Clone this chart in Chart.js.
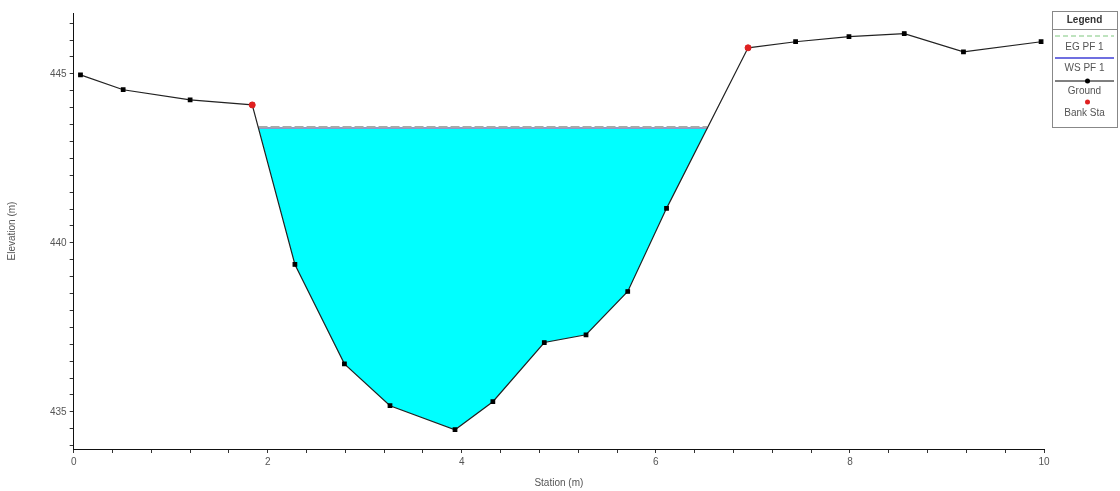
<!DOCTYPE html>
<html lang="en">

<head>
    <meta charset="UTF-8">
    <title>Cross Section</title>
    <style>
        body { margin: 0; background: #fff; }
    </style>
</head>

<body>
    <canvas id="myChart01" width="1120" height="491"></canvas>
</body>
<!-- chart.js -->
<script src="https://cdn.jsdelivr.net/npm/chart.js"></script>
<script>
    // ground profile (station m, elevation m)
    var groundStation = [0.07, 0.51, 1.20, 1.84, 2.28, 2.79, 3.26, 3.93, 4.32, 4.85, 5.28, 5.71, 6.11, 6.95, 7.44, 7.99, 8.56, 9.17, 9.97];
    var groundElev = [444.97, 444.53, 444.23, 444.08, 439.36, 436.42, 435.18, 434.47, 435.30, 437.05, 437.28, 438.56, 441.02, 445.77, 445.95, 446.10, 446.19, 445.65, 445.95];
    // bank stations
    var bankStation = [1.84, 6.95];
    var bankElev = [444.08, 445.77];
    // water surface / energy grade
    var wsElev = 443.40;
    var egElev = 443.43;
    var waterLeft = 1.905;
    var waterRight = 6.53;
    // axis labels
    var xLabels = [0, 2, 4, 6, 8, 10];
    var yLabels = [435, 440, 445];
    var legendItems = ['EG PF 1', 'WS PF 1', 'Ground', 'Bank Sta'];

    function pts(xs, ys) {
        return xs.map(function (x, i) { return { x: x, y: ys[i] }; });
    }

    var groundData = pts(groundStation, groundElev);
    var bankData = pts(bankStation, bankElev);

    // water polygon: left edge, ground under the water, right edge
    var waterData = [{ x: waterLeft, y: wsElev }];
    groundData.forEach(function (p) {
        if (p.x > waterLeft && p.x < waterRight) waterData.push(p);
    });
    waterData.push({ x: waterRight, y: wsElev });

    function isLabel(v, list) {
        return list.some(function (l) { return Math.abs(v - l) < 1e-6; });
    }

    // legend box on the right
    const legendBox = {
        id: 'legendBox',
        afterDraw: function (chart) {
            var c = chart.ctx;
            var x0 = 1052, y0 = 11, w = 65, h = 116, cx = x0 + w / 2;
            c.save();
            c.fillStyle = '#fff';
            c.fillRect(x0, y0, w, h);
            c.strokeStyle = '#888';
            c.lineWidth = 1;
            c.strokeRect(x0 + 0.5, y0 + 0.5, w, h);
            c.beginPath();
            c.moveTo(x0, y0 + 18.5);
            c.lineTo(x0 + w, y0 + 18.5);
            c.stroke();
            c.textAlign = 'center';
            c.textBaseline = 'middle';
            c.fillStyle = '#333';
            c.font = 'bold 10px "Liberation Sans", Arial, sans-serif';
            c.fillText('Legend', cx, y0 + 9);
            c.font = '10px "Liberation Sans", Arial, sans-serif';
            c.fillStyle = '#555';
            // EG
            c.strokeStyle = '#7fc77f';
            c.setLineDash([5, 3]);
            c.beginPath(); c.moveTo(x0 + 3, y0 + 25); c.lineTo(x0 + w - 3, y0 + 25); c.stroke();
            c.setLineDash([]);
            c.fillText(legendItems[0], cx, y0 + 36);
            // WS
            c.strokeStyle = '#6f6fe0';
            c.lineWidth = 2;
            c.beginPath(); c.moveTo(x0 + 3, y0 + 47); c.lineTo(x0 + w - 3, y0 + 47); c.stroke();
            c.fillText(legendItems[1], cx, y0 + 57);
            // Ground
            c.strokeStyle = '#000';
            c.lineWidth = 1;
            c.beginPath(); c.moveTo(x0 + 3, y0 + 70); c.lineTo(x0 + w - 3, y0 + 70); c.stroke();
            c.fillStyle = '#000';
            c.beginPath(); c.arc(cx + 3, y0 + 70, 2.5, 0, Math.PI * 2); c.fill();
            c.fillStyle = '#555';
            c.fillText(legendItems[2], cx, y0 + 80);
            // Bank Sta
            c.fillStyle = '#e02020';
            c.beginPath(); c.arc(cx + 3, y0 + 91, 2.5, 0, Math.PI * 2); c.fill();
            c.fillStyle = '#555';
            c.fillText(legendItems[3], cx, y0 + 102);
            c.restore();
        }
    };

    const ctx01 = document.getElementById('myChart01');
    var mychart01 = new Chart(ctx01, {
        type: 'scatter',
        data: {
            datasets: [{
                label: 'Bank Sta',
                data: bankData,
                showLine: false,
                pointStyle: 'circle',
                pointRadius: 3,
                pointBackgroundColor: '#e02020',
                pointBorderColor: '#e02020'
            }, {
                label: 'Ground',
                data: groundData,
                showLine: true,
                borderColor: '#222',
                borderWidth: 1.2,
                pointStyle: 'rect',
                pointRadius: 2.5,
                pointBackgroundColor: '#000',
                pointBorderColor: '#000',
                tension: 0
            }, {
                label: 'EG PF 1',
                data: [{ x: waterLeft, y: egElev }, { x: waterRight, y: egElev }],
                showLine: true,
                borderColor: '#a8a8a8',
                borderWidth: 2,
                borderDash: [9, 3],
                pointRadius: 0
            }, {
                label: 'WS PF 1',
                data: [{ x: waterLeft, y: wsElev }, { x: waterRight, y: wsElev }],
                showLine: true,
                borderColor: '#8d9bc8',
                borderWidth: 2,
                pointRadius: 0
            }, {
                label: 'water',
                data: waterData,
                showLine: true,
                borderWidth: 0,
                borderColor: 'rgba(0,0,0,0)',
                backgroundColor: '#00ffff',
                fill: 'shape',
                pointRadius: 0
            }]
        },
        options: {
            responsive: false,
            animation: false,
            layout: { padding: { top: 13, right: 76, left: 6, bottom: 2 } },
            plugins: {
                legend: { display: false },
                tooltip: { enabled: false }
            },
            scales: {
                x: {
                    type: 'linear',
                    min: 0,
                    max: 10,
                    border: { display: true, color: '#111', width: 1 },
                    grid: { drawOnChartArea: false, color: '#333', tickLength: 4 },
                    ticks: {
                        stepSize: 0.4,
                        autoSkip: false,
                        maxRotation: 0,
                        color: '#555',
                        font: { family: '"Liberation Sans", Arial, sans-serif', size: 10 },
                        callback: function (v) { return isLabel(v, xLabels) ? String(Math.round(v)) : ''; }
                    },
                    title: {
                        display: true,
                        text: 'Station (m)',
                        color: '#555',
                        font: { family: '"Liberation Sans", Arial, sans-serif', size: 10 },
                        padding: { top: 6, bottom: 0 }
                    }
                },
                y: {
                    type: 'linear',
                    min: 433.9,
                    max: 446.8,
                    border: { display: true, color: '#111', width: 1 },
                    grid: { drawOnChartArea: false, color: '#333', tickLength: 4 },
                    ticks: {
                        stepSize: 0.5,
                        includeBounds: false,
                        autoSkip: false,
                        color: '#555',
                        font: { family: '"Liberation Sans", Arial, sans-serif', size: 10 },
                        callback: function (v) { return isLabel(v, yLabels) ? String(Math.round(v)) : ''; }
                    },
                    title: {
                        display: true,
                        text: 'Elevation (m)',
                        color: '#555',
                        font: { family: '"Liberation Sans", Arial, sans-serif', size: 10 },
                        padding: { top: 0, bottom: 29 }
                    }
                }
            }
        },
        plugins: [legendBox]
    });
</script>

</html>
